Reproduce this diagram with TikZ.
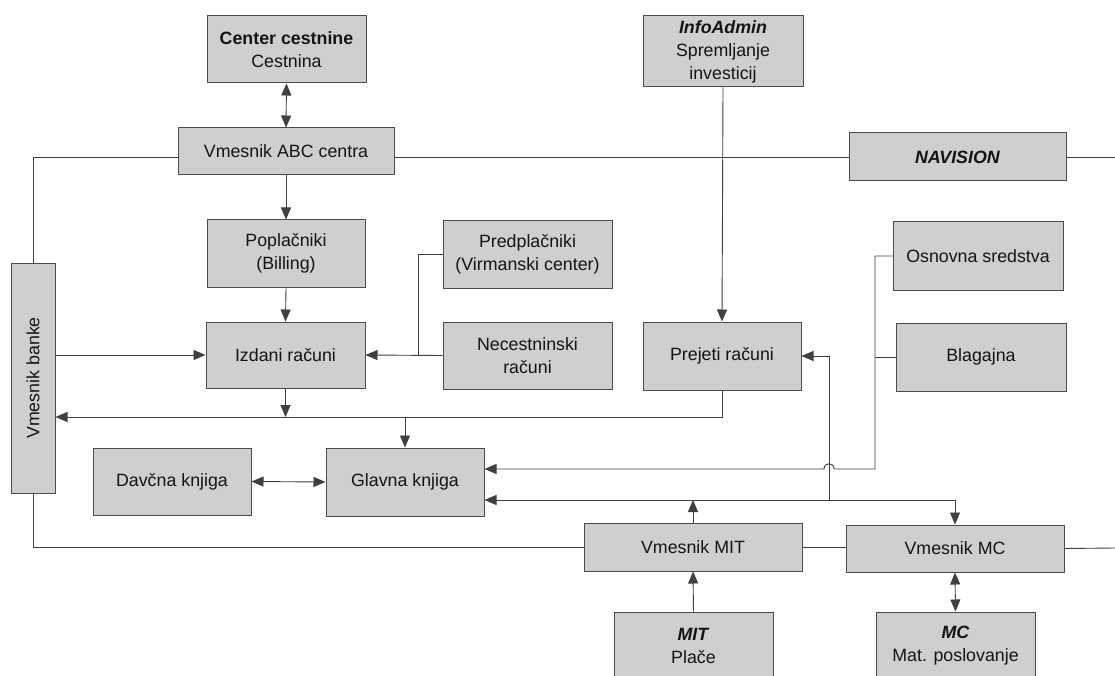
\documentclass[tikz,border=0pt]{standalone}
\usepackage{fontspec}
\setmainfont{Liberation Sans}
\usetikzlibrary{arrows.meta}
\begin{document}
\begin{tikzpicture}[x=1pt,y=-1pt,
  box/.style={draw=black!70, line width=1pt, fill=black!19, inner sep=0pt, align=center,
    font=\fontsize{17.8}{23}\selectfont, text=black!92},
  conn/.style={draw=black!75, line width=0.9pt},
  tip/.tip={Triangle[length=12pt,width=10pt]},
  arr/.style={conn, -tip},
  darr/.style={conn, tip-tip},
]
\useasboundingbox (0,0) rectangle (1115,676);
\fill[white] (0,0) rectangle (1115,676);
\clip (0,0) rectangle (1115,676);

% nodes
\node[box, minimum width=159pt, minimum height=67pt] (cc) at (286.5,49.5) {\textbf{Center cestnine}\\Cestnina};
\node[box, minimum width=216pt, minimum height=47pt] (abc) at (286,151.5) {Vmesnik ABC centra};
\node[box, minimum width=158pt, minimum height=67pt] (pop) at (286,253.5) {Poplačniki\\(Billing)};
\node[box, minimum width=169pt, minimum height=67pt] (pred) at (527.5,254.5) {Predplačniki\\(Virmanski center)};
\node[box, minimum width=169pt, minimum height=67pt] (nec) at (527.5,355.5) {Necestninski\\računi};
\node[box, minimum width=159pt, minimum height=66pt] (izd) at (285.5,355) {Izdani računi};
\node[box, minimum width=158pt, minimum height=68pt] (prej) at (722,356) {Prejeti računi};
\node[box, minimum width=160pt, minimum height=71pt] (info) at (723,51.5) {\textbf{\textit{InfoAdmin}}\\Spremljanje\\investicij};
\node[box, minimum width=217pt, minimum height=48pt] (nav) at (957.5,157) {\textbf{\textit{NAVISION}}};
\node[box, minimum width=170pt, minimum height=68pt] (osn) at (978,256) {Osnovna sredstva};
\node[box, minimum width=170pt, minimum height=68pt] (blag) at (981,357) {Blagajna};
\node[box, minimum width=44pt, minimum height=230pt] (banke) at (33,378) {\rotatebox{90}{Vmesnik banke}};
\node[box, minimum width=158pt, minimum height=67pt] (dav) at (172,481.5) {Davčna knjiga};
\node[box, minimum width=158pt, minimum height=68pt] (glav) at (405,482) {Glavna knjiga};
\node[box, minimum width=218pt, minimum height=48pt] (vmit) at (693,547) {Vmesnik MIT};
\node[box, minimum width=218pt, minimum height=47pt] (vmc) at (955,548.5) {Vmesnik MC};
\node[box, minimum width=159pt, minimum height=68pt] (mit) at (693.5,646) {\textbf{\textit{MIT}}\\Plače};
\node[box, minimum width=159pt, minimum height=68pt] (mc) at (955.5,646) {\textbf{\textit{MC}}\\Mat. poslovanje};

% helper coordinates
\coordinate (navR) at (1115,157);
\coordinate (mcR) at (1115,548);
\coordinate (j1) at (418,355);
\coordinate (bus1) at (722,417);
\coordinate (g1) at (405,417);
\coordinate (rx) at (875,469);
\coordinate (b2) at (829,500);

% connectors
\draw[darr] (cc.south) -- (abc.north);
\draw[arr] (abc.south) -- (pop.north);
\draw[arr] (pop.south) -- (izd.north);
\draw[conn] (abc.west |- nav.west) -| (banke.north);
\draw[conn] (abc.east |- nav.west) -- (nav.west);
\draw[conn] (nav.east) -- (navR);
\draw[arr] (info.south) -- (prej.north);
\draw[arr] (banke.east |- izd.west) -- (izd.west);
\draw[arr] (nec.west) -- (izd.east);
\draw[conn] (pred.west) -| (j1);
\draw[arr] (izd.south) -- (izd.south |- bus1);
\draw[arr] (prej.south) |- (banke.east |- bus1);
\draw[arr] (g1) -- (glav.north);
\draw[darr] (dav.east) -- (glav.west);
\draw[arr] (osn.west) -| (rx) -- (834,469) .. controls (834,462) and (824,462) .. (824,469) -- (glav.east |- rx);
\draw[conn] (blag.west) -- (blag.west -| rx);
\draw[arr] (vmit.north) -- (vmit.north |- b2);
\draw[arr] (b2) -- (glav.east |- b2);
\draw[arr] (b2) -| (vmc.north);
\draw[arr] (b2) |- (prej.east);
\draw[conn] (banke.south) |- (vmit.west);
\draw[conn] (vmit.east) -- (vmit.east -| vmc.west);
\draw[conn] (vmc.east) -- (mcR);
\draw[arr] (mit.north) -- (vmit.south);
\draw[darr] (vmc.south) -- (mc.north);
\end{tikzpicture}
\end{document}
